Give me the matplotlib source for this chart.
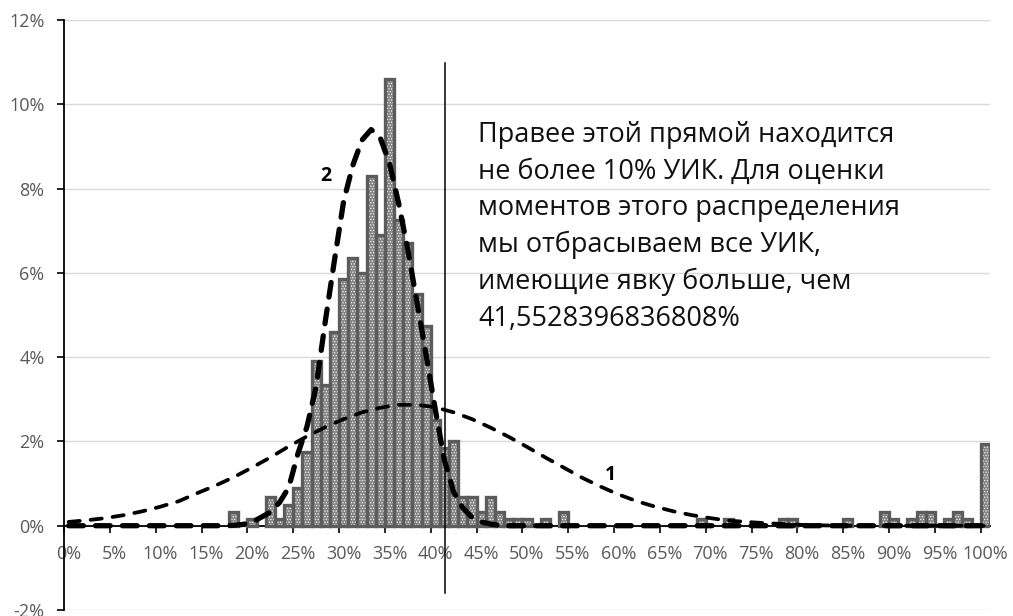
import numpy as np
import matplotlib.pyplot as plt

plt.rcParams['font.family'] = ['Open Sans', 'DejaVu Sans']
plt.rcParams['hatch.linewidth'] = 0.6

# доля УИК (%) по явке, шаг 1%: 0%, 1%, ..., 100%
turnout = np.arange(0, 101)
uik_share = [
    0, 0, 0, 0, 0, 0, 0, 0, 0, 0,                              # 0-9
    0, 0, 0, 0, 0, 0, 0, 0, 0.33, 0,                           # 10-19
    0.17, 0, 0.67, 0.17, 0.5, 0.9, 1.75, 3.9, 3.35, 4.6,       # 20-29
    5.85, 6.35, 6.0, 8.3, 6.9, 10.6, 7.25, 6.7, 5.5, 4.75,     # 30-39
    2.5, 1.85, 2.0, 0.67, 0.67, 0.33, 0.67, 0.33, 0.17, 0.17,  # 40-49
    0.17, 0, 0.17, 0, 0.33, 0, 0, 0, 0, 0,                     # 50-59
    0, 0, 0, 0, 0, 0, 0, 0, 0, 0.17,                           # 60-69
    0, 0, 0.17, 0, 0, 0, 0, 0, 0.17, 0.17,                     # 70-79
    0, 0, 0, 0, 0, 0.17, 0, 0, 0, 0.33,                        # 80-89
    0.17, 0, 0.17, 0.33, 0.33, 0, 0.17, 0.33, 0.17, 0,         # 90-99
    1.95,                                                      # 100
]

# кривая 1 - по всем УИК
curve1_x = np.arange(0, 101, 2)
curve1 = [
    0.09, 0.13, 0.18, 0.25, 0.34, 0.45, 0.58, 0.77, 0.95, 1.15,
    1.38, 1.62, 1.88, 2.12, 2.34, 2.53, 2.69, 2.80, 2.87, 2.87,
    2.81, 2.69, 2.53, 2.33, 2.11, 1.87, 1.62, 1.38, 1.14, 0.93,
    0.74, 0.58, 0.45, 0.34, 0.25, 0.18, 0.12, 0.09, 0.06, 0.04,
    0.02, 0.01, 0, 0, 0, 0, 0, 0, 0, 0,
    0,
]

# кривая 2 - без УИК правее прямой
curve2_x = [0, 17, 18, 19, 20, 21, 22, 23, 24, 25, 26, 27, 28, 29, 30, 31, 32,
            33, 34, 35, 36, 37, 38, 39, 40, 41, 42, 43, 44, 45, 46, 47, 48, 100]
curve2 = [0, 0, 0.01, 0.03, 0.08, 0.2, 0.32, 0.55, 0.9, 1.7, 2.35, 3.3, 4.85,
          6.3, 7.7, 8.55, 9.15, 9.4, 9.2, 8.6, 7.65, 6.55, 5.3, 4.05, 2.75,
          1.55, 0.8, 0.42, 0.2, 0.09, 0.04, 0.01, 0, 0]

cutoff = 41.5528396836808

note = ("Правее этой прямой находится\n"
        "не более 10% УИК. Для оценки\n"
        "моментов этого распределения\n"
        "мы отбрасываем все УИК,\n"
        "имеющие явку больше, чем\n"
        "41,5528396836808%")

fig = plt.figure(figsize=(10.13, 6.16), dpi=100)
ax = fig.add_axes([64 / 1013, 6 / 616, 926 / 1013, 590 / 616])

share = np.array(uik_share)
mask = share > 0
ax.bar(turnout[mask], share[mask], width=1.0, color='#858585',
       edgecolor='#f4f4f4', hatch='......', linewidth=0, zorder=2)
ax.bar(turnout[mask], share[mask], width=1.0, fill=False,
       edgecolor='#5c5c5c', linewidth=2.4, zorder=3)

ax.plot(curve1_x, curve1, color='black', lw=2.7, ls=(0, (3.0, 2.9)),
        dash_capstyle='round', zorder=4)
ax.plot(curve2_x, curve2, color='black', lw=3.8, ls=(0, (2.8, 2.3)),
        dash_capstyle='round', zorder=5)

# границы интервалов сдвинуты на полшага
ax.axvline(cutoff - 0.5, ymin=0.029, ymax=0.927, color='black', lw=1.1, zorder=6)

ax.text(28.1, 8.3, '2', fontsize=14, fontweight='bold', ha='center', va='center')
ax.text(59.1, 1.2, '1', fontsize=14, fontweight='bold', ha='center', va='center')
ax.text(44.65, 4.74, note, fontsize=19.5, ha='left', va='baseline',
        linespacing=1.41, color='#111111')

ax.set_xlim(-0.5, 100.5)
ax.set_ylim(-2, 12)

xt = np.arange(0, 101, 5)
ax.set_xticks(xt)
ax.set_xticklabels([f"{v}%" for v in xt])
ax.set_xticks(np.arange(-0.5, 100, 5), minor=True)
yt = np.arange(-2, 13, 2)
ax.set_yticks(yt)
ax.set_yticklabels([f"{v}%" for v in yt])

ax.tick_params(axis='x', which='major', length=0, pad=14, labelsize=13,
               labelcolor='#595959')
ax.tick_params(axis='x', which='minor', length=5, width=1.2, color='black')
ax.tick_params(axis='y', length=5, width=1.2, pad=9, labelsize=13,
               labelcolor='#595959')

ax.spines['top'].set_visible(False)
ax.spines['right'].set_visible(False)
ax.spines['bottom'].set_position(('data', 0))
ax.spines['bottom'].set_linewidth(1.3)
ax.spines['left'].set_linewidth(1.3)
ax.spines['bottom'].set_zorder(1)

ax.yaxis.grid(True, color='#d9d9d9', lw=1)
ax.set_axisbelow(True)

fig.savefig('out.png', dpi=100)
